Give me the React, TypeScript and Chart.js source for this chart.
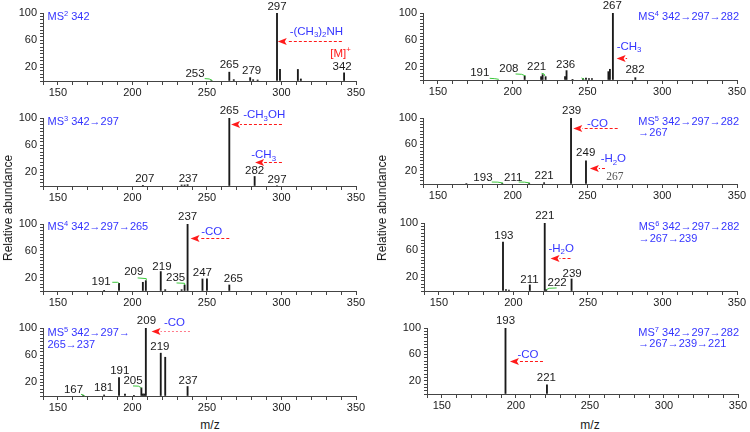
import React, { useEffect, useRef } from "react";
import { Chart, registerables } from "chart.js";
Chart.register(...registerables);

const FONT = '"Liberation Sans", Arial, Helvetica, sans-serif';
const SERIF = '"Liberation Serif", "Times New Roman", serif';
const BLUE = "#3535ff";
const RED = "#ff1a1a";
const GREEN = "#3cc83c";

// ---------- data: m/z values, relative abundances, labels ----------
// A: MS2 342
const aMz = [253, 265, 268, 279, 281, 284, 297, 299, 311, 313, 342];
const aAb = [0.8, 13, 2, 5, 2, 1.5, 100, 17, 17, 3, 12];
const aLabels = [["253", 242, 6], ["265", 265, 18.4], ["279", 280, 10], ["297", 297, 105], ["342", 340.7, 15.9]];
const aNotes = [["MS^{2} 342", 143, 89, "left", "b"], ["-(CH_{3})_{2}NH", 323.4, 67.8, "center", "b"], ["[M]^{+}", 339.6, 35.6, "center", "r"]];
const aArrows = [[340.5, 297.5, 59.5]];
const aLeaders = [[[248.5, 3.5], [251.5, 3], [253.5, 1]]];

// B: MS3 342->297
const bMz = [207, 233, 235, 237, 265, 282, 297];
const bAb = [1, 1.5, 1.5, 2, 100, 14, 0.8];
const bLabels = [["207", 208.3, 6], ["237", 237.5, 6], ["265", 265, 106], ["282", 282, 17], ["297", 297, 5]];
const bNotes = [["MS^{3} 342\u2192297", 143, 90, "left", "b"], ["-CH_{3}OH", 288.4, 100, "center", "b"], ["-CH_{3}", 288, 41, "center", "b"]];
const bArrows = [[300.3, 266.2, 91.5], [300.3, 282.3, 35.6]];
const bLeaders: number[][][] = [];

// C: MS4 342->297->265
const cMz = [181, 191, 207, 209, 219, 222, 233, 235, 237, 247, 250, 265];
const cAb = [1, 11.5, 13, 15.5, 29, 2, 2, 9, 100, 18, 18, 9];
const cLabels = [["191", 179, 9], ["209", 200.9, 24], ["219", 219.8, 31.5], ["235", 229, 15], ["237", 237, 106], ["247", 246.9, 22.5], ["265", 267.7, 14]];
const cNotes = [["MS^{4} 342\u2192297\u2192265", 143, 91.5, "left", "b"], ["-CO", 253.2, 83, "center", "b"]];
const cArrows = [[265, 239, 79]];
const cLeaders = [[[186.5, 13], [190, 13], [191, 11.5]], [[203.5, 19.5], [209.3, 18.5], [209.3, 16]], [[229.6, 12], [235, 11.5], [235, 9]]];

// D: MS5 342->297->265->237
const dMz = [167, 181, 191, 195, 201, 206, 207, 208, 209, 219, 222, 237];
const dAb = [0.5, 1.5, 27, 3, 0.5, 12, 3, 3, 100, 63, 57, 14];
const dLabels = [["167", 160.5, 4], ["181", 180.7, 7.4], ["191", 191.5, 32], ["205", 200.4, 17.7], ["209", 209.4, 106], ["219", 218.4, 68], ["237", 237.4, 17.7]];
const dNotes = [["MS^{5} 342\u2192297\u2192", 143, 88.6, "left", "b"], ["265\u2192237", 143, 70.5, "left", "b"], ["-CO", 228.2, 102.4, "center", "b"]];
const dArrows = [[238.6, 212.8, 96]];
const dLeaders = [[[165.5, 2.5], [167, 1.5], [168, 0]], [[200.4, 14.8], [204, 14.5], [206, 12]]];

// E: MS4 342->297->282
const eMz = [208, 219, 220, 222, 235, 236, 240, 247, 249, 251, 253, 264, 265, 267, 282];
const eAb = [6, 5, 8, 5, 5, 14, 1, 2, 3, 2, 2, 12.5, 16, 100, 3.5];
const eLabels = [["191", 178, 6], ["208", 197.4, 12.5], ["221", 216, 15], ["236", 235.4, 17.5], ["267", 266.6, 106], ["282", 281.8, 10]];
const eNotes = [["MS^{4} 342\u2192297\u2192282", 284, 90, "left", "b"], ["-CH_{3}", 277.8, 45, "center", "b"]];
const eArrows = [[276.5, 269.5, 33.5]];
const eLeaders = [[[184.6, 2.5], [188, 2], [190.7, 1]], [[201.9, 9], [206, 8.5], [208.6, 6]], [[219.3, 10], [221, 9], [221.5, 6]], [[246, 3], [247.5, 1.5], [248, 0.5]]];

// F: MS5 ...->267
const fMz = [169, 193, 211, 221, 239, 249];
const fAb = [0.8, 1, 1, 2, 100, 35];
const fLabels = [["193", 180.1, 4], ["211", 200.3, 4], ["221", 221, 7.5], ["239", 239.4, 106], ["249", 248.8, 43], ["267", 268.4, 6.5, "g"]];
const fNotes = [["MS^{5} 342\u2192297\u2192282", 284, 89.8, "left", "b"], ["\u2192267", 284, 72, "left", "b"], ["-CO", 256.7, 87, "center", "b"], ["-H_{2}O", 267.3, 33, "center", "b"]];
const fArrows = [[270.2, 240.5, 85], [261.7, 251.6, 24]];
const fLeaders = [[[186, 3], [190, 2.8], [193.5, 1.5]], [[204, 3], [208, 2.8], [211.5, 1.5]]];

// G: MS6 ...->239
const gMz = [193, 195, 197, 211, 221, 222, 239];
const gAb = [72, 2, 1.5, 9, 100, 2, 17.7];
const gLabels = [["193", 193.6, 76], ["211", 210.8, 12], ["221", 221, 106], ["222", 229.3, 7.4], ["239", 239.4, 21]];
const gNotes = [["MS^{6} 342\u2192297\u2192282", 284, 90, "left", "b"], ["\u2192267\u2192239", 284, 72.6, "left", "b"], ["-H_{2}O", 232, 58, "center", "b"]];
const gArrows = [[238.3, 224.9, 49]];
const gLeaders = [[[229, 4.5], [224, 4], [222.2, 2]]];

// H: MS7 ...->221
const hMz = [193, 221];
const hAb = [100, 14];
const hLabels = [["193", 193, 106], ["221", 220.6, 19]];
const hNotes = [["MS^{7} 342\u2192297\u2192282", 282.7, 88.3, "left", "b"], ["\u2192267\u2192239\u2192221", 282.7, 71.2, "left", "b"], ["-CO", 208.2, 55, "center", "b"]];
const hArrows = [[218.3, 196, 49.4]];
const hLeaders: number[][][] = [];

const xTicksMajor = [150, 200, 250, 300, 350];
const yTicksLabeled = [20, 60, 100];

type Spec = { mz: number[]; ab: number[]; labels: any[]; notes: any[]; arrows: number[][]; leaders: number[][][]; light?: boolean };
const SPECS: Spec[] = [
  { mz: aMz, ab: aAb, labels: aLabels, notes: aNotes, arrows: aArrows, leaders: aLeaders },
  { mz: bMz, ab: bAb, labels: bLabels, notes: bNotes, arrows: bArrows, leaders: bLeaders },
  { mz: cMz, ab: cAb, labels: cLabels, notes: cNotes, arrows: cArrows, leaders: cLeaders },
  { mz: dMz, ab: dAb, labels: dLabels, notes: dNotes, arrows: dArrows, leaders: dLeaders, light: true },
  { mz: eMz, ab: eAb, labels: eLabels, notes: eNotes, arrows: eArrows, leaders: eLeaders },
  { mz: fMz, ab: fAb, labels: fLabels, notes: fNotes, arrows: fArrows, leaders: fLeaders },
  { mz: gMz, ab: gAb, labels: gLabels, notes: gNotes, arrows: gArrows, leaders: gLeaders },
  { mz: hMz, ab: hAb, labels: hLabels, notes: hNotes, arrows: hArrows, leaders: hLeaders },
];

// ---------- layout (plot area boxes: left, top, right, bottom) ----------
const BOXES = [
  [43, 13, 356, 81],
  [43, 118, 356, 186],
  [43, 224, 356, 291],
  [43, 328, 356, 396],
  [423, 13, 737, 80],
  [423, 118, 737, 184],
  [424, 223, 737, 291],
  [427, 328, 738, 394],
];
const PL = 40, PT = 14, PR = 12, PB = 18;

function drawRich(ctx: CanvasRenderingContext2D, s: string, x: number, y: number, size: number, color: string, align: string) {
  const parts: { t: string; k: number; w: number }[] = [];
  const re = /([_^])\{([^}]*)\}/g;
  let last = 0;
  let m: RegExpExecArray | null;
  while ((m = re.exec(s))) {
    if (m.index > last) parts.push({ t: s.slice(last, m.index), k: 0, w: 0 });
    parts.push({ t: m[2], k: m[1] === "_" ? 1 : 2, w: 0 });
    last = re.lastIndex;
  }
  if (last < s.length) parts.push({ t: s.slice(last), k: 0, w: 0 });
  const fs = (k: number) => (k ? size * 0.68 : size);
  let w = 0;
  for (const p of parts) {
    ctx.font = `${fs(p.k)}px ${FONT}`;
    p.w = ctx.measureText(p.t).width;
    w += p.w;
  }
  let cx = align === "center" ? x - w / 2 : x;
  ctx.fillStyle = color;
  ctx.textAlign = "left";
  ctx.textBaseline = "alphabetic";
  for (const p of parts) {
    ctx.font = `${fs(p.k)}px ${FONT}`;
    const dy = p.k === 1 ? size * 0.22 : p.k === 2 ? -size * 0.38 : 0;
    ctx.fillText(p.t, cx, y + dy);
    cx += p.w;
  }
}

function annotPlugin(spec: Spec) {
  return {
    id: "annot",
    afterDraw(chart: any) {
      const ctx: CanvasRenderingContext2D = chart.ctx;
      const xs = chart.scales.x, ys = chart.scales.y;
      const X = (v: number) => xs.getPixelForValue(v);
      const Y = (v: number) => ys.getPixelForValue(v);
      ctx.save();
      // green leader lines
      ctx.strokeStyle = GREEN;
      ctx.lineWidth = 1;
      for (const pts of spec.leaders) {
        ctx.beginPath();
        pts.forEach(([mm, a], i) => (i ? ctx.lineTo(X(mm), Y(a)) : ctx.moveTo(X(mm), Y(a))));
        ctx.stroke();
      }
      // peak labels
      ctx.textAlign = "center";
      ctx.textBaseline = "alphabetic";
      for (const l of spec.labels) {
        if (l[3] === "g") {
          ctx.font = `11.5px ${SERIF}`;
          ctx.fillStyle = "#555";
        } else {
          ctx.font = `11.5px ${FONT}`;
          ctx.fillStyle = "#1a1a1a";
        }
        ctx.fillText(l[0], X(l[1]), Y(l[2]));
      }
      // red dashed arrows
      for (const [from, to, a] of spec.arrows) {
        const x1 = X(from), x2 = X(to), y = Math.round(Y(a)) + 0.5;
        const hl = 9;
        ctx.strokeStyle = spec.light ? "#ff7a8a" : RED;
        ctx.lineWidth = 1;
        ctx.setLineDash(spec.light ? [2, 2] : [3, 2]);
        ctx.beginPath();
        ctx.moveTo(x1, y);
        ctx.lineTo(x2 + hl, y);
        ctx.stroke();
        ctx.setLineDash([]);
        ctx.fillStyle = RED;
        ctx.beginPath();
        ctx.moveTo(x2, y);
        ctx.lineTo(x2 + hl, y - 3.5);
        ctx.lineTo(x2 + hl - 2, y);
        ctx.lineTo(x2 + hl, y + 3.5);
        ctx.closePath();
        ctx.fill();
      }
      // blue / red notes
      for (const n of spec.notes) {
        drawRich(ctx, n[0], X(n[1]), Y(n[2]), n[3] === "left" ? 11 : 11.5, n[4] === "r" ? RED : BLUE, n[3]);
      }
      ctx.restore();
    },
  };
}

function Panel({ spec, box }: { spec: Spec; box: number[] }) {
  const ref = useRef<HTMLCanvasElement>(null);
  const [l, t, r, b] = box;
  const w = r - l + PL + PR;
  const h = b - t + PT + PB;
  useEffect(() => {
    const chart = new Chart(ref.current as HTMLCanvasElement, {
      type: "bar",
      data: {
        datasets: [
          {
            data: spec.mz.map((m, i) => ({ x: m, y: spec.ab[i] })),
            backgroundColor: "#1a1a1a",
            borderWidth: 0,
            barThickness: 1.2,
          } as any,
        ],
      },
      options: {
        animation: false,
        responsive: false,
        events: [],
        layout: { padding: { top: PT, right: PR, left: 0, bottom: 0 } },
        plugins: { legend: { display: false }, tooltip: { enabled: false } },
        scales: {
          x: {
            type: "linear",
            min: 140,
            max: 350,
            offset: false,
            grid: { display: true, drawOnChartArea: false, drawTicks: true, tickLength: 4, tickColor: "#444", offset: false },
            border: { display: true, color: "#444", width: 1 },
            ticks: {
              stepSize: 10,
              autoSkip: false,
              maxRotation: 0,
              padding: 1,
              color: "#1a1a1a",
              font: { size: 11, family: FONT },
              callback: (v: any) => (xTicksMajor.includes(Number(v)) ? String(v) : ""),
            },
            afterFit: (s: any) => {
              s.height = PB;
            },
          },
          y: {
            type: "linear",
            min: 0,
            max: 100,
            grid: { display: true, drawOnChartArea: false, drawTicks: true, tickLength: 3, tickColor: "#444" },
            border: { display: true, color: "#444", width: 1 },
            ticks: {
              stepSize: 5,
              autoSkip: false,
              padding: 3,
              color: "#1a1a1a",
              font: { size: 11, family: FONT },
              callback: (v: any) => (yTicksLabeled.includes(Number(v)) ? String(v) : ""),
            },
            afterFit: (s: any) => {
              s.width = PL;
            },
          },
        },
      } as any,
      plugins: [annotPlugin(spec)],
    });
    return () => chart.destroy();
  }, []);
  return (
    <canvas
      ref={ref}
      width={w}
      height={h}
      style={{ position: "absolute", left: l - PL, top: t - PT, width: w, height: h }}
    />
  );
}

const textStyle: React.CSSProperties = { position: "absolute", fontFamily: FONT, fontSize: 12, color: "#1a1a1a", whiteSpace: "nowrap", lineHeight: "12px" };

export default function App() {
  return (
    <div style={{ position: "fixed", left: 0, top: 0, width: 750, height: 432, background: "#fff", overflow: "hidden" }}>
      {SPECS.map((s, i) => (
        <Panel key={i} spec={s} box={BOXES[i]} />
      ))}
      <div style={{ ...textStyle, left: 7.5, top: 207.5, transform: "translate(-50%,-50%) rotate(-90deg)" }}>Relative abundance</div>
      <div style={{ ...textStyle, left: 382, top: 207.5, transform: "translate(-50%,-50%) rotate(-90deg)" }}>Relative abundance</div>
      <div style={{ ...textStyle, left: 210, top: 419, transform: "translateX(-50%)" }}>m/z</div>
      <div style={{ ...textStyle, left: 590, top: 419, transform: "translateX(-50%)" }}>m/z</div>
    </div>
  );
}
